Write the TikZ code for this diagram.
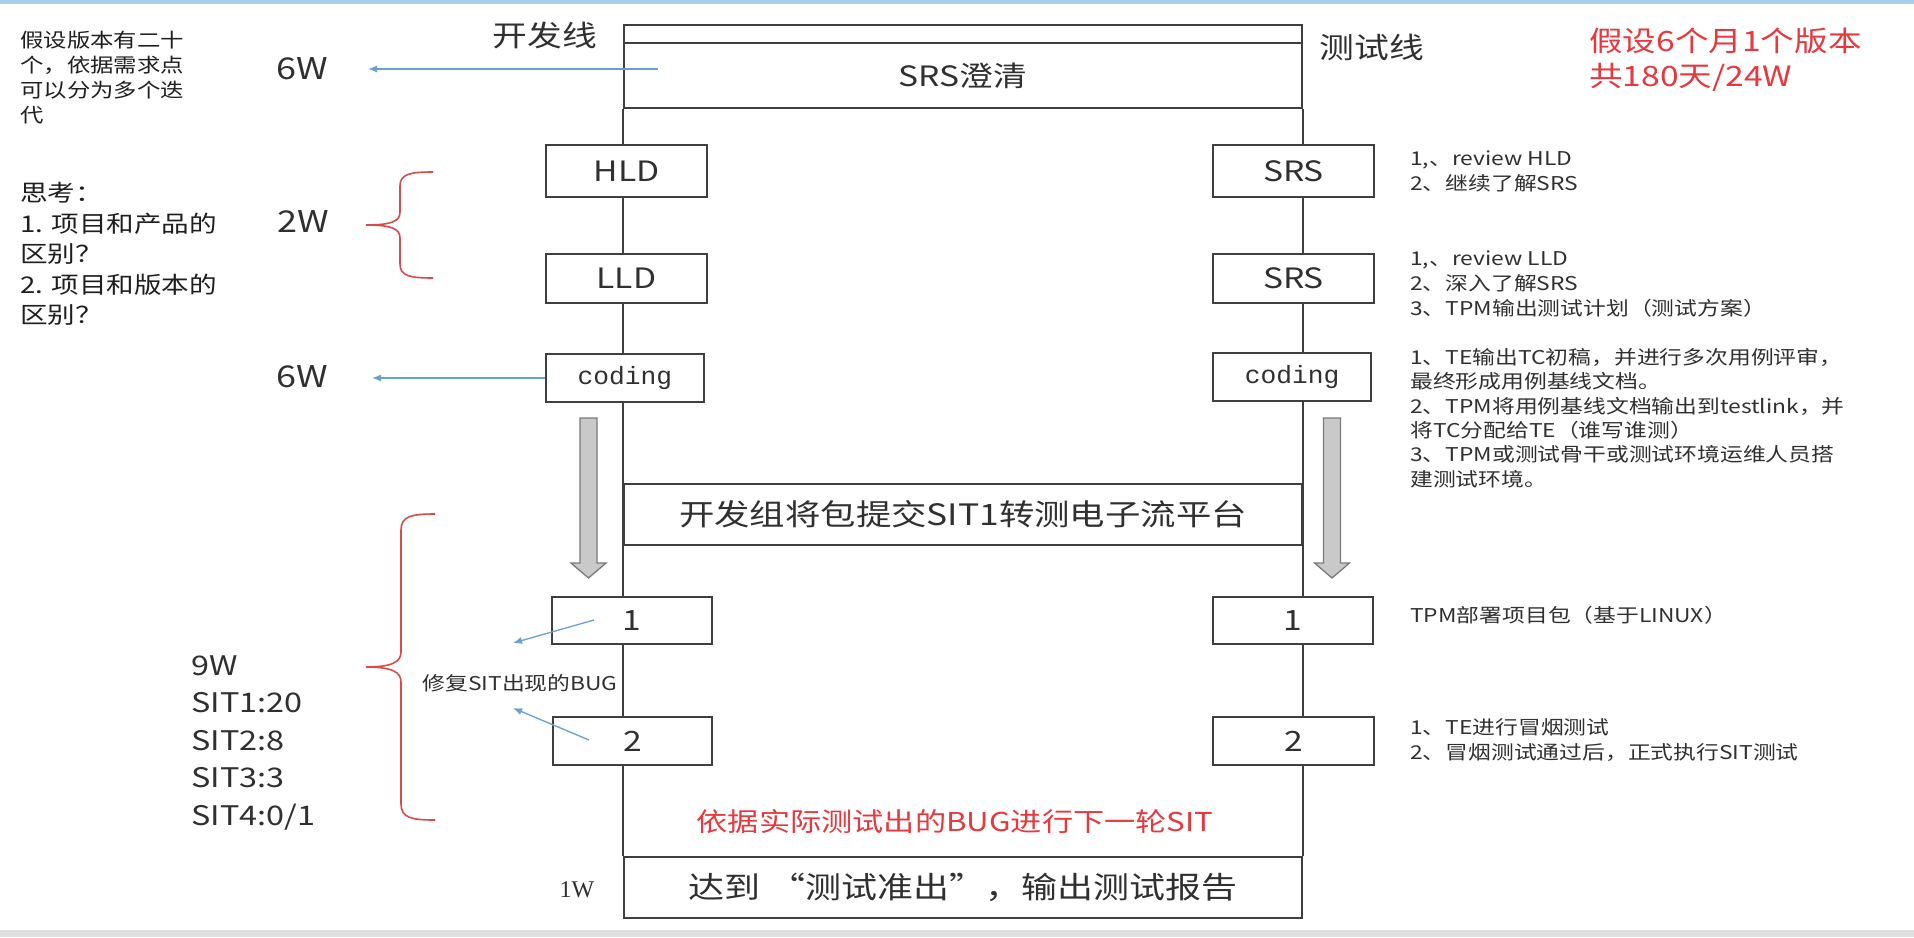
\documentclass[tikz,border=0pt]{standalone}
\usepackage{fontspec}
\setmainfont{Noto Sans CJK SC}[FakeStretch=1.2]
\newfontfamily\monof{Liberation Mono}[FakeStretch=1.05]
\newfontfamily\seriff{Liberation Serif}
\usetikzlibrary{arrows.meta,backgrounds}
\definecolor{linec}{HTML}{3F3F3F}
\definecolor{txt}{HTML}{303030}
\definecolor{redt}{HTML}{E8383D}
\definecolor{braced}{HTML}{D94A4A}
\definecolor{bluea}{HTML}{6A9FD4}
\definecolor{grayf}{HTML}{C9C9C9}
\definecolor{grayd}{HTML}{7A7A7A}
\definecolor{topband}{HTML}{A8CDEA}
\definecolor{botband}{HTML}{E0E0E0}
\newcommand{\myfs}[2]{\fontsize{#1pt}{#2pt}\selectfont}
\begin{document}
\begin{tikzpicture}[x=1pt,y=-1pt,
  box/.style={draw=linec,line width=1.6pt,fill=white,inner sep=0pt,text=txt},
  vline/.style={draw=linec,line width=1.6pt},
  bluearr/.style={draw=bluea,line width=1.3pt,-{Latex[length=9pt,width=7pt]}},
  bracepath/.style={draw=braced,line width=1.6pt},
  grayarrow/.style={draw=grayd,fill=grayf,line width=1.3pt,line join=miter},
  lbl/.style={inner sep=0pt,text=txt},
]
\useasboundingbox (0,0) rectangle (1914,937);
\begin{pgfonlayer}{background}
\fill[white] (0,0) rectangle (1914,937);
\fill[topband] (0,0) rectangle (1914,4);
\fill[botband] (0,930) rectangle (1914,937);
\end{pgfonlayer}

% frame boxes
\node[box,minimum width=678pt,minimum height=18pt] (topbar) at (963,34) {};
\node[box,minimum width=678pt,minimum height=65pt,font=\myfs{28}{34}] (srs) at (963,75.5) {SRS澄清};
\node[box,minimum width=678pt,minimum height=61pt,font=\myfs{29.5}{36}] (mid) at (963,514.5) {开发组将包提交SIT1转测电子流平台};
\node[box,minimum width=678pt,minimum height=61pt,font=\myfs{30}{36}] (fin) at (963,887.5) {达到 “测试准出”，输出测试报告};

% left (development) boxes
\node[box,minimum width=161pt,minimum height=52pt,font=\myfs{28}{34}] (hld) at (626.5,171) {HLD};
\node[box,minimum width=161pt,minimum height=49pt,font=\myfs{28}{34}] (lld) at (626.5,278.5) {LLD};
\node[box,minimum width=158pt,minimum height=48pt,font=\monof\myfs{25}{30}] (codl) at (625,378) {coding};
\node[box,minimum width=160pt,minimum height=47pt,font=\myfs{28}{34}] (sl1) at (632,620.5) {1};
\node[box,minimum width=159pt,minimum height=48pt,font=\myfs{28}{34}] (sl2) at (632.5,741) {2};

% right (test) boxes
\node[box,minimum width=161pt,minimum height=52pt,font=\myfs{28}{34}] (srsa) at (1293.5,171) {SRS};
\node[box,minimum width=161pt,minimum height=49pt,font=\myfs{28}{34}] (srsb) at (1293.5,278.5) {SRS};
\node[box,minimum width=158pt,minimum height=48pt,font=\monof\myfs{25}{30}] (codr) at (1292,377) {coding};
\node[box,minimum width=160pt,minimum height=47pt,font=\myfs{28}{34}] (sr1) at (1293,620.5) {1};
\node[box,minimum width=161pt,minimum height=48pt,font=\myfs{28}{34}] (sr2) at (1293.5,741) {2};

% vertical lines behind boxes
\begin{pgfonlayer}{background}
\draw[vline] (srs.south west) -- (fin.north west);
\draw[vline] (srs.south east) -- (fin.north east);
\end{pgfonlayer}

% titles
\node[lbl,font=\myfs{29}{34}] (devl) at (545,35) {开发线};
\node[lbl,font=\myfs{29}{34}] (testl) at (1372,47) {测试线};
\node[lbl,anchor=west,align=left,font=\myfs{28}{35},text=redt] (plan) at (1589,59.5) {假设6个月1个版本\\共180天/24W};

% left notes
\node[lbl,anchor=west,align=left,font=\myfs{19.5}{25},text=black!88] (note1) at (20,78) {假设版本有二十\\个，依据需求点\\可以分为多个迭\\代};
\node[lbl,anchor=west,align=left,font=\myfs{23}{30.5},text=black!88] (note2) at (20,254) {思考：\\1. 项目和产品的\\区别？\\2. 项目和版本的\\区别？};

% durations
\node[lbl,font=\myfs{30}{36}] (w6a) at (302,69) {6W};
\node[lbl,font=\myfs{30}{36}] (w2) at (303,222) {2W};
\node[lbl,font=\myfs{30}{36}] (w6b) at (302,377) {6W};
\node[lbl,anchor=west,align=left,font=\myfs{27}{37.5}] (sit) at (191,743) {9W\\SIT1:20\\SIT2:8\\SIT3:3\\SIT4:0/1};
\node[lbl,font=\seriff\myfs{24}{28}] (w1) at (577,890) {1W};
\node[lbl,font=\myfs{19}{24}] (fix) at (520,683) {修复SIT出现的BUG};
\node[lbl,font=\myfs{26}{32},text=redt] (next) at (955,822) {依据实际测试出的BUG进行下一轮SIT};

% right notes
\node[lbl,anchor=west,align=left,font=\myfs{19}{25}] (n1) at (1410,171.5) {1,、review HLD\\2、继续了解SRS};
\node[lbl,anchor=west,align=left,font=\myfs{19}{25}] (n2) at (1410,284) {1,、review LLD\\2、深入了解SRS\\3、TPM输出测试计划（测试方案）};
\node[lbl,anchor=west,align=left,font=\myfs{19}{24.4}] (n3) at (1410,418) {1、TE输出TC初稿，并进行多次用例评审，\\最终形成用例基线文档。\\2、TPM将用例基线文档输出到testlink，并\\将TC分配给TE（谁写谁测）\\3、TPM或测试骨干或测试环境运维人员搭\\建测试环境。};
\node[lbl,anchor=west,font=\myfs{19}{25}] (n4) at (1410,615) {TPM部署项目包（基于LINUX）};
\node[lbl,anchor=west,align=left,font=\myfs{19}{25}] (n5) at (1410,740.5) {1、TE进行冒烟测试\\2、冒烟测试通过后，正式执行SIT测试};

% blue arrows
\coordinate (a1s) at (658,69);
\coordinate (a1e) at (368,69);
\draw[bluearr] (a1s) -- (a1e);
\coordinate (a2e) at (372,378);
\draw[bluearr] (codl.west) -- (a2e);
\coordinate (a3s) at (594,620);
\coordinate (a3e) at (513,643);
\draw[bluearr] (a3s) -- (a3e);
\coordinate (a4s) at (589,740);
\coordinate (a4e) at (513,708);
\draw[bluearr] (a4s) -- (a4e);

% red braces
\draw[bracepath] (433,172) .. controls (410,172) and (400,174) .. (400,186) -- (400,212) .. controls (400,221) and (392,225) .. (366,225) .. controls (392,225) and (400,229) .. (400,238) -- (400,264) .. controls (400,276) and (410,278) .. (433,278);
\draw[bracepath] (435,514) .. controls (412,514) and (401,516) .. (401,530) -- (401,652) .. controls (401,662) and (392,667) .. (366,667) .. controls (392,667) and (401,672) .. (401,682) -- (401,804) .. controls (401,818) and (412,820) .. (435,820);

% gray down arrows
\draw[grayarrow] (580,418) -- (597,418) -- (597,563) -- (606,563) -- (588.5,578) -- (571,563) -- (580,563) -- cycle;
\draw[grayarrow] (1323.5,418) -- (1340.5,418) -- (1340.5,563) -- (1349.5,563) -- (1332,578) -- (1314.5,563) -- (1323.5,563) -- cycle;
\end{tikzpicture}
\end{document}
